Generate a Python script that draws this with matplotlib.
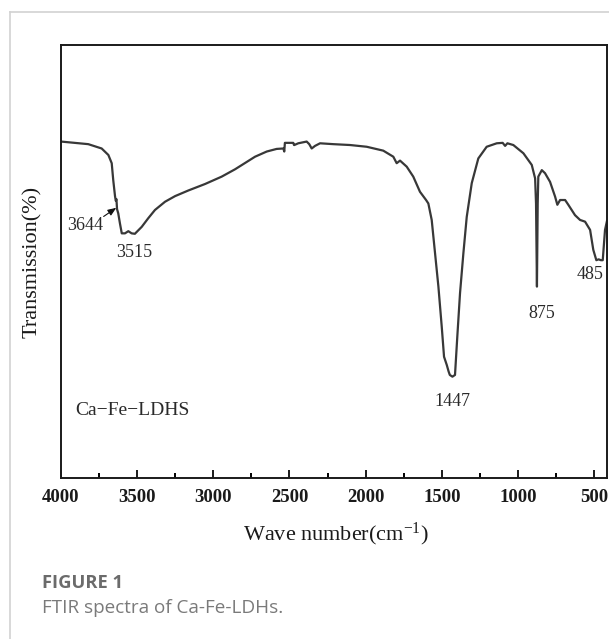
import matplotlib
matplotlib.use("Agg")
import matplotlib.pyplot as plt
from matplotlib.lines import Line2D
from matplotlib.ticker import MultipleLocator

# FTIR spectrum of Ca-Fe-LDHs (wavenumber in cm-1, transmission in arbitrary %)
wavenumber = [
    4000, 3821, 3733, 3689, 3667, 3657, 3645, 3640, 3636, 3632, 3624, 3613,
    3601, 3580, 3558, 3536, 3515, 3470, 3427, 3383, 3317, 3251, 3164, 3054,
    2945, 2857, 2726, 2649, 2584, 2540, 2534, 2530, 2525, 2475, 2470, 2468,
    2442, 2387, 2370, 2354, 2332, 2299, 2212, 2102, 1993, 1884, 1818, 1796,
    1774, 1730, 1687, 1643, 1603, 1588, 1566, 1544, 1522, 1500, 1485, 1467,
    1455, 1447, 1430, 1413, 1398, 1380, 1358, 1336, 1303, 1260, 1205, 1139,
    1100, 1084, 1069, 1030, 964, 909, 887, 881, 875, 870, 866, 843, 822,
    789, 756, 741, 723, 690, 669, 625, 592, 559, 526, 505, 485, 470, 455,
    443, 428, 415,
]
transmission = [
    77.7, 77.1, 76.1, 74.6, 72.7, 68.8, 65.0, 64.0, 64.4, 62.1, 61.1, 58.8,
    56.5, 56.5, 57.0, 56.5, 56.4, 58.0, 60.0, 61.9, 63.8, 65.1, 66.4, 67.9,
    69.6, 71.3, 74.2, 75.4, 76.0, 76.1, 75.4, 77.4, 77.4, 77.4, 76.9, 76.9,
    77.3, 77.7, 77.1, 76.1, 76.7, 77.3, 77.1, 76.9, 76.5, 75.6, 74.2, 72.7,
    73.3, 71.9, 69.6, 66.1, 64.2, 63.4, 59.6, 51.9, 44.2, 34.9, 28.0, 26.1,
    24.6, 23.8, 23.4, 23.8, 32.6, 42.7, 51.9, 60.3, 68.1, 73.8, 76.5, 77.3,
    77.4, 76.7, 77.3, 76.9, 75.0, 72.3, 69.2, 63.4, 44.2, 63.4, 69.6, 71.1,
    70.4, 68.4, 65.0, 63.1, 64.2, 64.2, 63.1, 60.7, 59.6, 59.2, 57.3, 52.7,
    50.3, 50.5, 50.3, 50.3, 57.3, 59.4,
]

# Peak labels: (text, wavenumber position, transmission position)
peak_labels = ["3644", "3515", "1447", "875", "485"]
peak_label_x = [3842, 3521, 1430, 843, 526]
peak_label_y = [58.2, 52.0, 17.6, 38.0, 47.1]

x_ticks = [4000, 3500, 3000, 2500, 2000, 1500, 1000, 500]
sample_name = "Ca\u2212Fe\u2212LDHS"

serif = "Liberation Serif"
plt.rcParams["mathtext.fontset"] = "custom"
plt.rcParams["mathtext.rm"] = serif
plt.rcParams["mathtext.it"] = serif

fig = plt.figure(figsize=(6.09, 6.39), dpi=100)
fig.patch.set_facecolor("white")

# light card border on the left and top edges
fig.add_artist(Line2D([9.5 / 609, 9.5 / 609], [0, 1 - 12 / 639],
                      transform=fig.transFigure, color="#d2d2d2", lw=1.2))
fig.add_artist(Line2D([9.5 / 609, 1], [1 - 12 / 639, 1 - 12 / 639],
                      transform=fig.transFigure, color="#d2d2d2", lw=1.2))

ax = fig.add_axes([61 / 609, 1 - 478 / 639, (607 - 61) / 609, (478 - 45) / 639])
ax.plot(wavenumber, transmission, color="#383838", lw=1.6, solid_joinstyle="round")
ax.set_xlim(4000, 415)
ax.set_ylim(0, 100)

for side in ["left", "right", "top", "bottom"]:
    ax.spines[side].set_linewidth(1.4)
    ax.spines[side].set_color("#1a1a1a")

ax.set_xticks(x_ticks)
ax.xaxis.set_minor_locator(MultipleLocator(250))
ax.set_yticks([])
ax.tick_params(axis="x", which="major", direction="in", length=6, width=1.4,
               pad=8, labelsize=13.5, colors="#1a1a1a")
ax.tick_params(axis="x", which="minor", direction="in", length=3.5, width=1.4)
for lab in ax.get_xticklabels():
    lab.set_fontfamily(serif)
    lab.set_fontweight("bold")

for txt, px, py in zip(peak_labels, peak_label_x, peak_label_y):
    ax.text(px, py, txt, ha="center", va="center", fontsize=13,
            fontfamily=serif, color="#2a2a2a")

ax.annotate("", xy=(3637, 62.4), xytext=(3720, 60.4),
            arrowprops=dict(arrowstyle="-|>,head_length=0.5,head_width=0.2",
                            color="#111111", lw=0.8, shrinkA=0, shrinkB=0))

ax.text(3530, 15.5, sample_name, ha="center", va="center", fontsize=14,
        fontfamily=serif, color="#2a2a2a")

fig.text(336 / 609, 1 - 534 / 639, r"Wave number(cm$^{\mathrm{-1}}$)",
         ha="center", va="center", fontsize=16, fontfamily=serif, color="#1a1a1a")
fig.text(32 / 609, 1 - 262 / 639, "Transmission(%)", rotation=90,
         ha="center", va="center", fontsize=16, fontfamily=serif, color="#1a1a1a")

fig.text(42 / 609, 1 - 583 / 639, "FIGURE 1", ha="left", va="center",
         fontsize=13.2, fontweight="bold", fontfamily="Open Sans", color="#6b6b6b")
fig.text(42 / 609, 1 - 608 / 639, "FTIR spectra of Ca-Fe-LDHs.", ha="left",
         va="center", fontsize=13.6, fontfamily="Open Sans", color="#7a7a7a")

fig.savefig("out.png", dpi=100, facecolor="white")
